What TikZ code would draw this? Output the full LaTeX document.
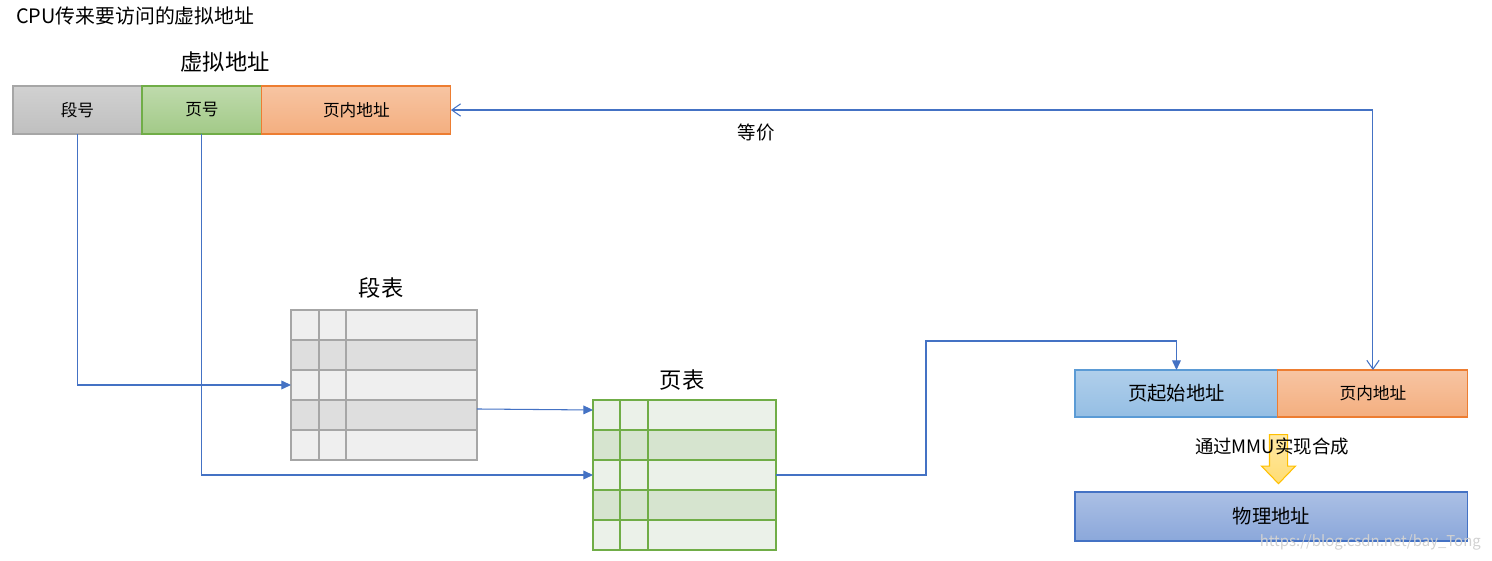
\documentclass[tikz,border=0pt]{standalone}
\usepackage{fontspec}
\newfontfamily\cjk{Noto Sans CJK SC}
\usetikzlibrary{positioning,arrows.meta,shapes.arrows}
\definecolor{linkblue}{HTML}{4472C4}
\definecolor{seggray}{HTML}{A6A6A6}
\definecolor{segL}{HTML}{EFEFEF}
\definecolor{segD}{HTML}{DEDEDE}
\definecolor{pggreen}{HTML}{70AD47}
\definecolor{pgL}{HTML}{EBF1E9}
\definecolor{pgD}{HTML}{D6E4CF}
\definecolor{offorange}{HTML}{ED7D31}
\definecolor{baseblue}{HTML}{5B9BD5}
\definecolor{mmuyellow}{HTML}{FFC000}

\begin{document}
\begin{tikzpicture}[x=0.02cm,y=-0.02cm,font=\cjk,
    box/.style={draw,line width=0.6pt,inner sep=0pt,outer sep=0pt,minimum height=0.96cm,font=\cjk\fontsize{9.5}{11}\selectfont},
    bigbox/.style={box,font=\cjk\fontsize{11}{13}\selectfont},
    link/.style={draw=linkblue,line width=0.6pt,-{Triangle[length=5.5pt,width=5pt]}},
    same/.style={draw=linkblue,line width=0.6pt,{Straight Barb[length=5pt,width=7pt]}-{Straight Barb[length=5pt,width=7pt]}},
    title/.style={font=\cjk\fontsize{12.7}{15}\selectfont}]
    \useasboundingbox (0,0) rectangle (1492,561);

    % virtual address
    \node[anchor=west,font=\cjk\fontsize{11.3}{13}\selectfont] (cpu) at (10,16) {CPU传来要访问的虚拟地址};
    \node[title] (vtitle) at (225,62) {虚拟地址};
    \node[box,draw=seggray,top color=black!18,bottom color=black!25,minimum width=2.58cm,anchor=north west] (seg) at (13,86) {段号};
    \node[box,draw=pggreen,top color=pggreen!45,bottom color=pggreen!65,minimum width=2.4cm,right=0 of seg] (pg) {页号};
    \node[box,draw=offorange,top color=offorange!45,bottom color=offorange!62,minimum width=3.78cm,right=0 of pg] (off) {页内地址};

    % segment table
    \foreach \i/\c in {0/segL,1/segD,2/segL,3/segD,4/segL}
        \filldraw[fill=\c,draw=seggray,line width=1pt] (291,{310+30*\i}) rectangle (477,{340+30*\i});
    \draw[seggray,line width=1pt] (319,310) -- (319,460) (346,310) -- (346,460);
    \node[draw=seggray,line width=1pt,inner sep=0pt,outer sep=0pt,minimum width=3.72cm,minimum height=3cm,anchor=north west] (segtab) at (291,310) {};
    \node[title] (segtitle) at (381,288) {段表};

    % page table
    \foreach \i/\c in {0/pgL,1/pgD,2/pgL,3/pgD,4/pgL}
        \filldraw[fill=\c,draw=pggreen,line width=1pt] (593,{400+30*\i}) rectangle (776,{430+30*\i});
    \draw[pggreen,line width=1pt] (620,400) -- (620,550) (648,400) -- (648,550);
    \node[draw=pggreen,line width=1pt,inner sep=0pt,outer sep=0pt,minimum width=3.66cm,minimum height=3cm,anchor=north west] (pagetab) at (593,400) {};
    \node[title] (pagetitle) at (682,380) {页表};

    % physical address
    \node[bigbox,draw=baseblue,top color=baseblue!48,bottom color=baseblue!65,minimum width=4.06cm,minimum height=0.94cm,anchor=north west] (base) at (1075,370) {页起始地址};
    \node[box,draw=offorange,top color=offorange!45,bottom color=offorange!62,minimum width=3.8cm,minimum height=0.94cm,right=0 of base] (off2) {页内地址};
    \node[single arrow,shape border rotate=270,draw=mmuyellow,line width=0.6pt,top color=mmuyellow!35,bottom color=mmuyellow!55,inner sep=0.17cm,minimum width=0.66cm,minimum height=0.98cm,single arrow head extend=0.16cm,single arrow tip angle=88] (mmu) at (1278.5,454.5) {};
    \node[font=\cjk\fontsize{10.5}{12}\selectfont] (mmutext) at (1272,446) {通过MMU实现合成};
    \node[bigbox,draw=linkblue,top color=linkblue!45,bottom color=linkblue!62,minimum width=7.86cm,minimum height=0.98cm,anchor=north west] (phys) at (1075,492) {物理地址};
    \node[anchor=east,text=black!18,font=\cjk\fontsize{8.5}{10}\selectfont] (mark) at (1487,542) {https://blog.csdn.net/bay\_Tong};

    % connectors
    \coordinate (bend) at (926,341);
    \draw[link] (seg.south) |- (segtab.west);
    \draw[link] (pg.south) |- (pagetab.west);
    \draw[link] ([yshift=-0.48cm]segtab.east) -- ([yshift=-0.2cm]pagetab.north west);
    \draw[link] (pagetab.east) -| (bend) -| (base.north);
    \draw[same] (off2.north) |- (off.east);
    \node[font=\cjk\fontsize{10.5}{12}\selectfont] (eqlbl) at (756,133) {等价};
\end{tikzpicture}
\end{document}
